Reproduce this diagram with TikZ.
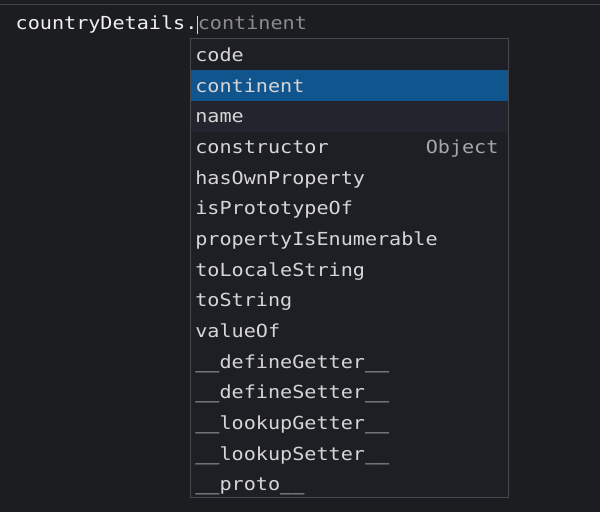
\documentclass[tikz,border=0pt]{standalone}
\usepackage{fontspec}
\newfontfamily\codefont[FakeStretch=1.12]{DejaVu Sans Mono}
\usetikzlibrary{positioning}

\definecolor{editorbg}{HTML}{1C1D21}
\definecolor{popupbg}{HTML}{1D1F24}
\definecolor{popupline}{HTML}{46474C}
\definecolor{selectbg}{HTML}{11558F}
\definecolor{hoverbg}{HTML}{22252D}
\definecolor{itemtext}{HTML}{D6D6D6}
\definecolor{ghosttext}{HTML}{8C8C8C}
\definecolor{typetext}{HTML}{A3A7AE}

\tikzset{
  code/.style={inner sep=0pt, anchor=base west, font=\codefont\fontsize{18}{18}\selectfont},
  item/.style={code, text=itemtext},
}

\begin{document}
\begin{tikzpicture}[x=1pt,y=-1pt]
	\fill[editorbg] (0,0) rectangle (600,513);
	\draw[popupline, line width=1pt] (0,4.5) -- (600,4.5);
	% the line being typed
	\node[code, text=white!88!gray] (expr) at (15,29.5) {countryDetails.};
	\node[code, text=ghosttext, right=0pt of expr.base east, anchor=base west] (hint) {continent};
	\coordinate (caret) at (197,16);
	\draw[itemtext, line width=1pt] (caret) -- ++(0,18);
	% suggestion list
	\fill[popupbg] (190,38.5) rectangle (509,498.5);
	\fill[selectbg] (190.5,70) rectangle (508.5,101.5);
	\fill[hoverbg] (190.5,101.5) rectangle (508.5,132);
	\draw[popupline, line width=1pt] (190,38.5) rectangle (509,498.5);
	\foreach \lbl [count=\i from 0] in {code, continent, name, constructor, hasOwnProperty,
		isPrototypeOf, propertyIsEnumerable, toLocaleString, toString, valueOf,
		\_\_defineGetter\_\_, \_\_defineSetter\_\_, \_\_lookupGetter\_\_,
		\_\_lookupSetter\_\_, \_\_proto\_\_}
		\node[item] (row\i) at (195,{61.7+30.7*\i}) {\lbl};
	\node[code, text=typetext, anchor=base east] (rowtype) at (row3.base -| 499,0) {Object};
\end{tikzpicture}
\end{document}
